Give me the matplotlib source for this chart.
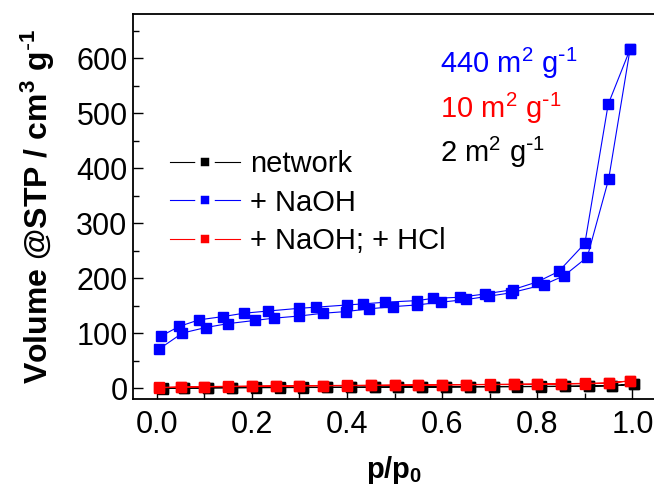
import matplotlib.pyplot as plt
from matplotlib.lines import Line2D

plt.rcParams['font.family'] = ['Liberation Sans', 'DejaVu Sans']
plt.rcParams['mathtext.default'] = 'regular'

# + NaOH isotherm (adsorption / desorption branches)
naoh_ads_p = [0.005, 0.054, 0.103, 0.149, 0.207, 0.246, 0.30, 0.35, 0.397, 0.447, 0.497,
              0.546, 0.597, 0.651, 0.698, 0.744, 0.814, 0.856, 0.905, 0.95, 0.995]
naoh_ads_v = [71, 100, 110, 117, 123, 127, 131, 136, 139, 144, 148,
              151, 156, 161, 167, 173, 188, 204, 238, 380, 616]
naoh_des_p = [0.995, 0.949, 0.90, 0.845, 0.80, 0.749, 0.69, 0.637, 0.58, 0.548, 0.48,
              0.434, 0.40, 0.335, 0.30, 0.234, 0.183, 0.14, 0.089, 0.047, 0.008]
naoh_des_v = [616, 516, 263, 212, 193, 179, 171, 165, 163, 159, 156,
              153, 151, 147, 145, 140, 136, 130, 124, 112, 94]

# network (black) and + NaOH; + HCl (red)
p_grid = [0.005, 0.05, 0.1, 0.15, 0.2, 0.25, 0.3, 0.35, 0.4, 0.45, 0.5,
          0.55, 0.6, 0.65, 0.7, 0.75, 0.8, 0.85, 0.9, 0.95, 0.995]
net_p = [p + 0.008 for p in p_grid]
net_ads_v = [-1.0, -0.5, 0.0, 0.3, 0.5, 0.7, 0.9, 1.0, 1.2, 1.4, 1.5,
             1.7, 1.8, 2.0, 2.2, 2.4, 2.6, 2.9, 3.2, 3.8, 7.0]
net_des_v = [7.0, 4.5, 3.8, 3.3, 3.0, 2.8, 2.6, 2.4, 2.2, 2.0, 1.9,
             1.8, 1.6, 1.5, 1.3, 1.2, 1.0, 0.8, 0.6, 0.3, 0.0]
hcl_ads_v = [0.5, 1.5, 2.0, 2.5, 3.0, 3.3, 3.6, 4.0, 4.3, 4.6, 4.9,
             5.2, 5.5, 5.8, 6.1, 6.4, 6.8, 7.2, 7.8, 8.5, 13.0]
hcl_des_v = [13.0, 9.5, 8.5, 7.8, 7.3, 7.0, 6.6, 6.3, 6.0, 5.7, 5.4,
             5.1, 4.8, 4.5, 4.2, 3.9, 3.5, 3.1, 2.6, 2.0, 1.0]

labels = ['network', '+ NaOH', '+ NaOH; + HCl']
colors = ['black', 'blue', 'red']
areas = ['440 m$^2$ g$^{\\text{-}1}$', '10 m$^2$ g$^{\\text{-}1}$', '2 m$^2$ g$^{\\text{-}1}$']
area_colors = ['blue', 'red', 'black']

fig = plt.figure(figsize=(6.54, 4.86), dpi=100)
ax = fig.add_axes([0.2034, 0.179, 0.800, 0.792])

ms = 6.8
lw = 0.8
ax.plot(net_p + net_p[::-1], net_ads_v + net_des_v, '-s', color='black', lw=lw, ms=ms)
ax.plot(naoh_ads_p + naoh_des_p, naoh_ads_v + naoh_des_v, '-s', color='blue', lw=lw, ms=ms)
ax.plot(p_grid + p_grid[::-1], hcl_ads_v + hcl_des_v, '-s', color='red', lw=lw, ms=ms)

ax.set_xlim(-0.05, 1.05)
ax.set_ylim(-20, 680)
ax.set_xticks([0.0, 0.2, 0.4, 0.6, 0.8, 1.0])
ax.set_xticks([0.1, 0.3, 0.5, 0.7, 0.9], minor=True)
ax.set_yticks(range(0, 601, 100))
ax.set_yticks(range(50, 651, 100), minor=True)
ax.tick_params(which='both', direction='in', labelsize=22, width=1.0)
ax.tick_params(which='major', length=7)
ax.tick_params(which='minor', length=4)
ax.tick_params(axis='x', pad=8)
ax.tick_params(axis='y', pad=4)
for s in ax.spines.values():
    s.set_linewidth(1.3)
ax.set_xticklabels(['0.0', '0.2', '0.4', '0.6', '0.8', '1.0'])

ax.set_xlabel('p/p$_0$', fontsize=21, fontweight='bold', labelpad=10)
ax.set_ylabel('Volume @STP / cm$^3$ g$^{\\text{-}1}$', fontsize=23, fontweight='bold', labelpad=14)

for txt, c, yy in zip(areas, area_colors, [0.847, 0.730, 0.616]):
    ax.text(0.587, yy, txt, transform=ax.transAxes, color=c, fontsize=21)

handles = [Line2D([], [], color=c, lw=lw, marker='s', ms=10, mec='white', mew=4)
           for c in colors]
ax.legend(handles, labels, loc='upper left', bbox_to_anchor=(170 / 654, 1 - 150 / 486),
          bbox_transform=fig.transFigure, frameon=False, fontsize=21,
          handlelength=2.4, handletextpad=0.35, labelspacing=0.36, borderpad=0,
          borderaxespad=0)

fig.savefig('out.png', dpi=100)
